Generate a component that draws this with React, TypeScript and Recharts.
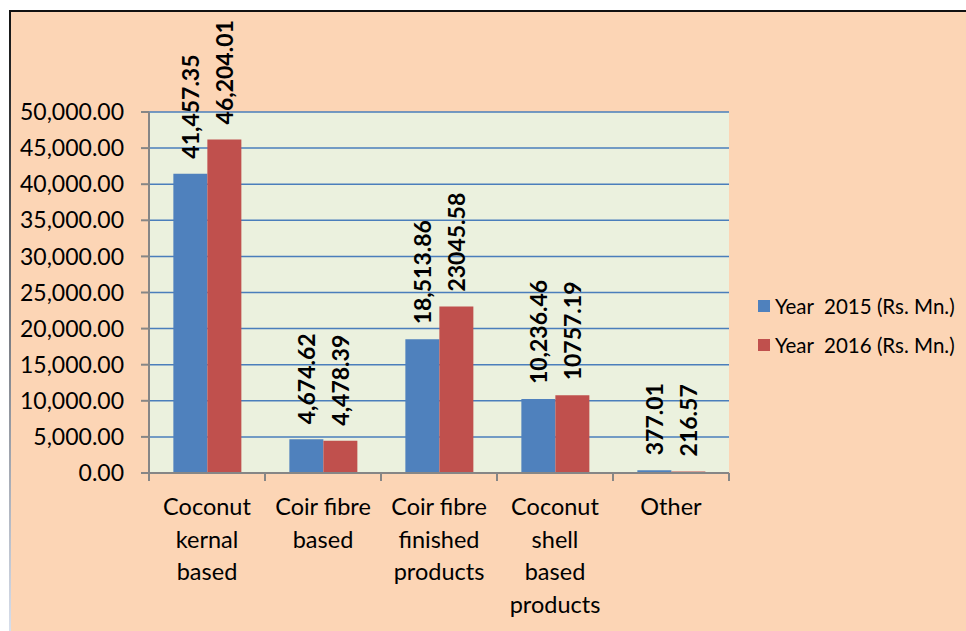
import React from 'react';
import { BarChart, Bar, XAxis, YAxis, CartesianGrid, Legend, LabelList } from 'recharts';

const categories = [
  'Coconut\nkernal\nbased',
  'Coir fibre\nbased',
  'Coir fibre\nfinished\nproducts',
  'Coconut\nshell\nbased\nproducts',
  'Other',
];
const year2015 = [41457.35, 4674.62, 18513.86, 10236.46, 377.01];
const year2016 = [46204.01, 4478.39, 23045.58, 10757.19, 216.57];
const labels2015 = ['41,457.35', '4,674.62', '18,513.86', '10,236.46', '377.01'];
const labels2016 = ['46,204.01', '4,478.39', '23045.58', '10757.19', '216.57'];
const seriesNames = ['Year  2015 (Rs. Mn.)', 'Year  2016 (Rs. Mn.)'];
const yTicks = [0, 5000, 10000, 15000, 20000, 25000, 30000, 35000, 40000, 45000, 50000];

const COLORS = ['#4F81BD', '#C0504D'];
const FONT = "Lato, 'Open Sans', sans-serif";
const AXIS = '#868686';

const data = categories.map((c, i) => ({
  category: c,
  y2015: year2015[i],
  y2016: year2016[i],
  l2015: labels2015[i],
  l2016: labels2016[i],
}));

const fmtY = (v: number) =>
  v.toLocaleString('en-US', { minimumFractionDigits: 2, maximumFractionDigits: 2 });

const RotLabel = (props: any) => {
  const { x, y, width, value } = props;
  const cx = Number(x) + Number(width) / 2;
  const by = Number(y) - 15;
  return (
    <text
      x={cx}
      y={by}
      transform={`rotate(-90 ${cx} ${by})`}
      textAnchor="start"
      dominantBaseline="central"
      fontFamily={FONT}
      fontWeight="bold"
      fontSize={23}
      fill="#000"
    >
      {value}
    </text>
  );
};

const XTick = (props: any) => {
  const { x, y, payload, index } = props;
  const half = payload && payload.offset ? payload.offset : 58;
  const lines = String(payload.value).split('\n');
  const top = Number(y) - 8;
  return (
    <g>
      <line x1={x - half} x2={x - half} y1={top} y2={top + 8} stroke={AXIS} strokeWidth={2} />
      {index === categories.length - 1 && (
        <line x1={x + half} x2={x + half} y1={top} y2={top + 8} stroke={AXIS} strokeWidth={2} />
      )}
      <text x={x} y={y} textAnchor="middle" fontFamily={FONT} fontSize={23.5} fill="#000">
        {lines.map((l, i) => (
          <tspan key={i} x={x} dy={i === 0 ? 34 : 32.5}>
            {l}
          </tspan>
        ))}
      </text>
    </g>
  );
};

const renderLegend = () => (
  <div style={{ fontFamily: FONT, fontSize: 20.5, color: '#000' }}>
    {seriesNames.map((n, i) => (
      <div key={n} style={{ display: 'flex', alignItems: 'center', height: 39, whiteSpace: 'pre' }}>
        <span style={{ display: 'inline-block', width: 12, height: 12, background: COLORS[i], marginRight: 5 }} />
        <span>{n}</span>
      </div>
    ))}
  </div>
);

export default function App() {
  return (
    <div style={{ position: 'absolute', left: 0, top: 0, width: 966, height: 631, background: '#fff' }}>
      <div
        style={{
          position: 'absolute',
          left: 9,
          top: 10,
          width: 957,
          height: 621,
          background: '#FCD5B5',
          borderTop: '2px solid #111',
          boxSizing: 'border-box',
        }}
      />
      <div
        style={{
          position: 'absolute',
          left: 9,
          top: 10,
          width: 2,
          height: 621,
          background: 'linear-gradient(#111, #d8dfec)',
        }}
      />
      <div style={{ position: 'absolute', left: 0, top: 0 }}>
        <BarChart
          width={966}
          height={631}
          data={data}
          margin={{ top: 112, right: 237, bottom: 18, left: 9 }}
          barCategoryGap="21%"
          barGap={0}
        >
          <CartesianGrid
            vertical={false}
            fill="#EBF1DE"
            stroke="#4A7EBB"
            strokeWidth={1.5}
          />
          <XAxis
            dataKey="category"
            height={140}
            interval={0}
            tickLine={false}
            tickSize={8}
            tickMargin={0}
            axisLine={{ stroke: AXIS, strokeWidth: 2 }}
            tick={<XTick />}
          />
          <YAxis
            width={140}
            domain={[0, 50000]}
            ticks={yTicks}
            interval={0}
            tickFormatter={fmtY}
            tickSize={8}
            tickMargin={17}
            tickLine={{ stroke: AXIS, strokeWidth: 2 }}
            axisLine={{ stroke: AXIS, strokeWidth: 2 }}
            tick={{ fill: '#000', fontSize: 23, fontFamily: FONT }}
          />
          <Legend
            layout="vertical"
            align="center"
            verticalAlign="middle"
            content={renderLegend}
            wrapperStyle={{ position: 'absolute', left: 758, top: 286, width: 208 }}
          />
          <Bar dataKey="y2015" name={seriesNames[0]} fill={COLORS[0]} isAnimationActive={false}>
            <LabelList dataKey="l2015" content={<RotLabel />} />
          </Bar>
          <Bar dataKey="y2016" name={seriesNames[1]} fill={COLORS[1]} isAnimationActive={false}>
            <LabelList dataKey="l2016" content={<RotLabel />} />
          </Bar>
        </BarChart>
      </div>
    </div>
  );
}
